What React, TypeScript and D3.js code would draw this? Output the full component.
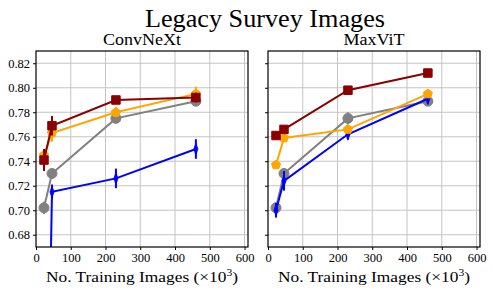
import React, { useEffect, useRef } from 'react';
import * as d3 from 'd3';

// training set sizes (x10^3)
const trainSizes = [23, 46, 230, 460];
const xTicks = [0, 100, 200, 300, 400, 500, 600];
const yTicks = [0.68, 0.7, 0.72, 0.74, 0.76, 0.78, 0.8, 0.82];

// ConvNeXt
const convGray = [0.702, 0.730, 0.775, 0.789];
const convGrayErr = [0.005, 0.003, 0.004, 0.002];
const convBlue = [0.35, 0.715, 0.726, 0.750];
const convBlueErr = [0.01, 0.006, 0.008, 0.008];
const convOrange = [0.745, 0.763, 0.780, 0.795];
const convOrangeErr = [0.004, 0.007, 0.004, 0.006];
const convRed = [0.741, 0.769, 0.790, 0.792];
const convRedErr = [0.009, 0.008, 0.002, 0.004];

// MaxViT
const maxGray = [0.702, 0.730, 0.775, 0.789];
const maxGrayErr = [0.004, 0.004, 0.005, 0.002];
const maxBlue = [0.700, 0.724, 0.762, 0.791];
const maxBlueErr = [0.006, 0.008, 0.004, 0.004];
const maxOrange = [0.737, 0.759, 0.766, 0.795];
const maxOrangeErr = [0.002, 0.002, 0.002, 0.002];
const maxRed = [0.761, 0.766, 0.798, 0.812];
const maxRedErr = [0.002, 0.002, 0.002, 0.002];

const W = 493;
const H = 293;
const FONT = "'Liberation Serif', 'DejaVu Serif', serif";

const pentagon = (r: number) => {
  const pts = d3.range(5).map(i => {
    const a = -Math.PI / 2 + (i * 2 * Math.PI) / 5;
    return [r * Math.cos(a), r * Math.sin(a)];
  });
  return 'M' + pts.map(p => p.join(',')).join('L') + 'Z';
};

const App = () => {
  const ref = useRef<SVGSVGElement>(null);

  useEffect(() => {
    document.body.style.margin = '0';
    const svg = d3.select(ref.current);
    svg.selectAll('*').remove();

    svg.append('text')
      .attr('x', 265).attr('y', 27)
      .attr('text-anchor', 'middle')
      .attr('font-family', FONT).attr('font-size', 25)
      .attr('textLength', 240).attr('lengthAdjust', 'spacingAndGlyphs')
      .text('Legacy Survey Images');

    const panels = [
      {
        name: 'ConvNeXt', left: 36, right: 248, labels: true, tw: 78,
        series: [
          { v: convGray, e: convGrayErr, color: '#808080', m: 'o' },
          { v: convBlue, e: convBlueErr, color: '#0000ff', m: 'd' },
          { v: convOrange, e: convOrangeErr, color: '#ffa500', m: 'p' },
          { v: convRed, e: convRedErr, color: '#8b0000', m: 's' },
        ],
      },
      {
        name: 'MaxViT', left: 268, right: 480, labels: false, tw: 61,
        series: [
          { v: maxGray, e: maxGrayErr, color: '#808080', m: 'o' },
          { v: maxBlue, e: maxBlueErr, color: '#0000ff', m: 'd' },
          { v: maxOrange, e: maxOrangeErr, color: '#ffa500', m: 'p' },
          { v: maxRed, e: maxRedErr, color: '#8b0000', m: 's' },
        ],
      },
    ];
    const top = 51;
    const bottom = 247;

    panels.forEach((p, pi) => {
      const x = d3.scaleLinear().domain([0, 610]).range([p.left, p.right]);
      const y = d3.scaleLinear().domain([0.67, 0.83]).range([bottom, top]);
      const g = svg.append('g');
      const cx = (p.left + p.right) / 2;

      g.append('text')
        .attr('x', cx).attr('y', 45)
        .attr('text-anchor', 'middle')
        .attr('font-family', FONT).attr('font-size', 16)
        .attr('textLength', p.tw).attr('lengthAdjust', 'spacingAndGlyphs')
        .text(p.name);

      // grid
      g.append('g').selectAll('line').data(xTicks.slice(1)).join('line')
        .attr('x1', d => x(d)).attr('x2', d => x(d))
        .attr('y1', top).attr('y2', bottom)
        .attr('stroke', '#c4c4c4').attr('stroke-width', 1);
      g.append('g').selectAll('line').data(yTicks).join('line')
        .attr('x1', p.left).attr('x2', p.right)
        .attr('y1', d => y(d)).attr('y2', d => y(d))
        .attr('stroke', '#c4c4c4').attr('stroke-width', 1);

      // axes
      const ax = g.append('g').attr('transform', `translate(0,${bottom})`)
        .call(d3.axisBottom(x).tickValues(xTicks).tickSize(3).tickPadding(3).tickFormat(d3.format('d')))
        .attr('font-family', FONT).attr('font-size', 12.5);
      ax.select('.domain').remove();
      ax.selectAll('text').attr('fill', '#000');
      const ay = g.append('g').attr('transform', `translate(${p.left},0)`)
        .call(d3.axisLeft(y).tickValues(yTicks).tickSize(3).tickPadding(3)
          .tickFormat(p.labels ? d3.format('.2f') : () => ''))
        .attr('font-family', FONT).attr('font-size', 12.5);
      ay.select('.domain').remove();
      ay.selectAll('text').attr('fill', '#000');

      const xl = g.append('text')
        .attr('x', cx).attr('y', 282)
        .attr('text-anchor', 'middle')
        .attr('font-family', FONT).attr('font-size', 15)
        .attr('textLength', 192).attr('lengthAdjust', 'spacingAndGlyphs');
      xl.append('tspan').text('No. Training Images (\u00d710');
      xl.append('tspan').attr('font-size', 10).attr('dy', -6).text('3');
      xl.append('tspan').attr('dy', 6).text(')');

      // data
      const clipId = `clip${pi}`;
      svg.append('clipPath').attr('id', clipId).append('rect')
        .attr('x', p.left).attr('y', top).attr('width', p.right - p.left).attr('height', bottom - top);
      const dg = g.append('g').attr('clip-path', `url(#${clipId})`);
      const line = d3.line<number>().x((_, i) => x(trainSizes[i])).y(d => y(d));

      p.series.forEach(s => {
        const sg = dg.append('g');
        sg.selectAll('line.err').data(s.v).join('line').attr('class', 'err')
          .attr('x1', (_, i) => x(trainSizes[i])).attr('x2', (_, i) => x(trainSizes[i]))
          .attr('y1', (d, i) => y(d - s.e[i])).attr('y2', (d, i) => y(d + s.e[i]))
          .attr('stroke', s.color).attr('stroke-width', 2);
        sg.append('path').datum(s.v).attr('d', line)
          .attr('fill', 'none').attr('stroke', s.color).attr('stroke-width', 2);
        const mk = sg.selectAll('path.mk').data(s.v).join('path').attr('class', 'mk')
          .attr('fill', s.color).attr('stroke', s.color).attr('stroke-width', 1);
        if (s.m === 'o') {
          mk.attr('d', d3.symbol(d3.symbolCircle, 78)())
            .attr('transform', (d, i) => `translate(${x(trainSizes[i])},${y(d)})`);
        } else if (s.m === 's') {
          mk.attr('d', d3.symbol(d3.symbolSquare, 72)())
            .attr('transform', (d, i) => `translate(${x(trainSizes[i])},${y(d)})`);
        } else if (s.m === 'p') {
          mk.attr('d', pentagon(4.8))
            .attr('transform', (d, i) => `translate(${x(trainSizes[i])},${y(d)})`);
        } else {
          mk.attr('d', d3.symbol(d3.symbolDiamond, 40)())
            .attr('transform', (d, i) => `translate(${x(trainSizes[i])},${y(d)}) scale(0.6,1)`);
        }
      });

      // frame
      g.append('rect')
        .attr('x', p.left).attr('y', top).attr('width', p.right - p.left).attr('height', bottom - top)
        .attr('fill', 'none').attr('stroke', '#000').attr('stroke-width', 1.2);
    });
  }, []);

  return <svg ref={ref} width={W} height={H} style={{ display: 'block', background: '#fff' }} />;
};

export default App;
